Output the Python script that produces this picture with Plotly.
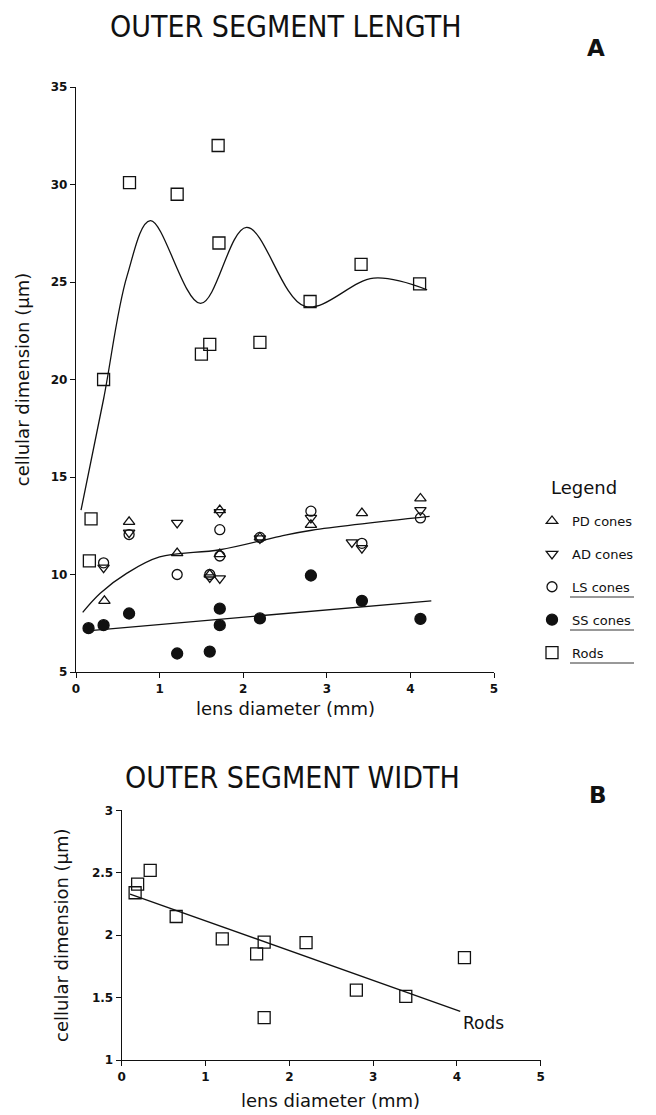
import plotly.graph_objects as go

# ---------------- Panel A data (outer segment length, µm) ----------------
pd_x = [0.34, 0.635, 1.21, 1.60, 1.72, 1.72, 2.20, 2.81, 3.42, 4.12]
pd_y = [8.65, 12.7, 11.1, 10.0, 11.05, 13.3, 11.9, 12.55, 13.15, 13.9]

ad_x = [0.33, 0.635, 1.21, 1.60, 1.72, 1.72, 2.20, 2.81, 3.30, 3.42, 4.12]
ad_y = [10.35, 12.15, 12.65, 9.85, 9.8, 13.2, 11.85, 12.9, 11.65, 11.35, 13.3]

ls_x = [0.33, 0.635, 1.21, 1.60, 1.72, 1.72, 2.20, 2.81, 3.42, 4.12]
ls_y = [10.6, 12.05, 10.0, 10.0, 12.3, 10.95, 11.9, 13.25, 11.6, 12.9]

ss_x = [0.15, 0.33, 0.635, 1.21, 1.60, 1.72, 1.72, 2.20, 2.81, 3.42, 4.12]
ss_y = [7.25, 7.4, 8.0, 5.95, 6.05, 8.25, 7.4, 7.75, 9.95, 8.65, 7.72]

rods_x = [0.16, 0.18, 0.33, 0.64, 1.21, 1.50, 1.60, 1.70, 1.71, 2.20, 2.80, 3.41, 4.11]
rods_y = [10.7, 12.85, 20.0, 30.1, 29.5, 21.3, 21.8, 32.0, 27.0, 21.9, 24.0, 25.9, 24.9]

# fitted curves
rods_fit_x = [0.06, 0.33, 0.61, 0.89, 1.49, 2.04, 2.74, 3.56, 4.20]
rods_fit_y = [13.3, 19.0, 25.3, 28.15, 23.9, 27.8, 23.75, 25.2, 24.6]

cone_fit_x = [0.08, 0.29, 0.61, 1.00, 1.72, 2.44, 2.82, 4.23]
cone_fit_y = [8.06, 9.04, 10.07, 10.9, 11.27, 11.96, 12.27, 12.98]

ss_fit_x = [0.10, 4.25]
ss_fit_y = [7.1, 8.65]

# ---------------- Panel B data (outer segment width, µm) ----------------
rodw_x = [0.16, 0.19, 0.34, 0.65, 1.20, 1.61, 1.70, 1.70, 2.20, 2.80, 3.39, 4.09]
rodw_y = [2.34, 2.41, 2.52, 2.15, 1.97, 1.85, 1.945, 1.34, 1.94, 1.56, 1.51, 1.82]
rodw_fit_x = [0.10, 4.04]
rodw_fit_y = [2.33, 1.39]

x_ticks = [0, 1, 2, 3, 4, 5]
ya_ticks = [5, 10, 15, 20, 25, 30, 35]
yb_ticks = [1, 1.5, 2, 2.5, 3]

W, H = 656, 1115
FONT = "DejaVu Sans"
TITLE_FONT = "Liberation Sans Narrow, Arial Narrow, DejaVu Sans Condensed, sans-serif"
BLACK = "#111111"

fig = go.Figure()

def mk(symbol, size):
    return dict(symbol=symbol, size=size, color=BLACK, line=dict(color=BLACK, width=1.3))

# fits
fig.add_trace(go.Scatter(x=rods_fit_x, y=rods_fit_y, mode="lines", line=dict(color=BLACK, width=1.3, shape="spline", smoothing=1.0),
                         showlegend=False, xaxis="x", yaxis="y", hoverinfo="skip"))
fig.add_trace(go.Scatter(x=cone_fit_x, y=cone_fit_y, mode="lines", line=dict(color=BLACK, width=1.3, shape="spline", smoothing=1.0),
                         showlegend=False, xaxis="x", yaxis="y", hoverinfo="skip"))
fig.add_trace(go.Scatter(x=ss_fit_x, y=ss_fit_y, mode="lines", line=dict(color=BLACK, width=1.3),
                         showlegend=False, xaxis="x", yaxis="y", hoverinfo="skip"))

series = [
    ("PD cones", pd_x, pd_y, mk("triangle-up-open", 10)),
    ("AD cones", ad_x, ad_y, mk("triangle-down-open", 10)),
    ("LS cones", ls_x, ls_y, mk("circle-open", 10)),
    ("SS cones", ss_x, ss_y, mk("circle", 11)),
    ("Rods", rods_x, rods_y, mk("square-open", 12)),
]
for i, (name, xs, ys, m) in enumerate(series):
    fig.add_trace(go.Scatter(x=xs, y=ys, mode="markers", marker=m, name=name,
                             legendgroup=f"g{i}", xaxis="x", yaxis="y"))

# panel B
fig.add_trace(go.Scatter(x=rodw_fit_x, y=rodw_fit_y, mode="lines", line=dict(color=BLACK, width=1.3),
                         showlegend=False, xaxis="x2", yaxis="y2", hoverinfo="skip"))
fig.add_trace(go.Scatter(x=rodw_x, y=rodw_y, mode="markers", marker=mk("square-open", 12),
                         showlegend=False, xaxis="x2", yaxis="y2"))

axis_common = dict(showline=True, linecolor=BLACK, linewidth=1.3, ticks="outside", ticklen=5,
                   tickwidth=1.2, tickcolor=BLACK, showgrid=False, zeroline=False,
                   tickfont=dict(family=FONT, size=12, color=BLACK, weight="bold"),
                   automargin=False, fixedrange=True)
title_font = dict(family=FONT, size=18, color=BLACK)

fig.update_layout(
    width=W, height=H, margin=dict(l=0, r=0, t=0, b=0),
    paper_bgcolor="white", plot_bgcolor="white",
    xaxis=dict(domain=[76 / W, 494 / W], range=[0, 5], tickvals=x_ticks, anchor="y", **axis_common),
    yaxis=dict(domain=[1 - 672 / H, 1 - 87 / H], range=[5, 35], tickvals=ya_ticks, anchor="x",
               title=dict(text="cellular dimension (\u03bcm)", font=title_font, standoff=16),
               **axis_common),
    xaxis2=dict(domain=[121.7 / W, 540.7 / W], range=[0, 5], tickvals=x_ticks, anchor="y2", **axis_common),
    yaxis2=dict(domain=[1 - 1060 / H, 1 - 810.4 / H], range=[1, 3], tickvals=yb_ticks, anchor="x2",
                title=dict(text="cellular dimension (\u03bcm)", font=title_font, standoff=18),
                **axis_common),
    legend=dict(x=532 / W, xanchor="left", y=1 - 506 / H, yanchor="top",
                font=dict(family=FONT, size=13, color=BLACK), tracegroupgap=13,
                bgcolor="rgba(0,0,0,0)", itemwidth=30),
    showlegend=True,
)

annotations = [
    dict(text="OUTER SEGMENT LENGTH", x=285 / W, y=1 - 26 / H, xref="paper", yref="paper",
         showarrow=False, font=dict(family=TITLE_FONT, size=30, color=BLACK), xanchor="center", yanchor="middle"),
    dict(text="<b>A</b>", x=596 / W, y=1 - 48 / H, xref="paper", yref="paper",
         showarrow=False, font=dict(family=FONT, size=23, color=BLACK), xanchor="center", yanchor="middle"),
    dict(text="OUTER SEGMENT WIDTH", x=292 / W, y=1 - 777 / H, xref="paper", yref="paper",
         showarrow=False, font=dict(family=TITLE_FONT, size=30, color=BLACK), xanchor="center", yanchor="middle"),
    dict(text="<b>B</b>", x=598 / W, y=1 - 795 / H, xref="paper", yref="paper",
         showarrow=False, font=dict(family=FONT, size=23, color=BLACK), xanchor="center", yanchor="middle"),
    dict(text="lens diameter (mm)", x=285 / W, y=1 - 708 / H, xref="paper", yref="paper",
         showarrow=False, font=title_font, xanchor="center", yanchor="middle"),
    dict(text="lens diameter (mm)", x=331 / W, y=1 - 1100 / H, xref="paper", yref="paper",
         showarrow=False, font=title_font, xanchor="center", yanchor="middle"),
    dict(text="Legend", x=584 / W, y=1 - 487 / H, xref="paper", yref="paper",
         showarrow=False, font=dict(family=FONT, size=18, color=BLACK), xanchor="center", yanchor="middle"),
    dict(text="Rods", x=4.05, y=1.30, xref="x2", yref="y2", showarrow=False, xanchor="left", yanchor="middle",
         font=dict(family=FONT, size=17, color=BLACK)),
]
fig.update_layout(annotations=annotations)

# faint underlines under three legend entries, as in the scanned original
underline_y = [597, 630, 663]
fig.update_layout(shapes=[
    dict(type="line", xref="paper", yref="paper", x0=570 / W, x1=634 / W, y0=1 - yy / H, y1=1 - yy / H,
         line=dict(color="#333333", width=1)) for yy in underline_y
])

fig.write_html("out.html", config={"displayModeBar": False},
               post_script="document.body.style.margin='0';document.body.style.overflow='hidden';")
